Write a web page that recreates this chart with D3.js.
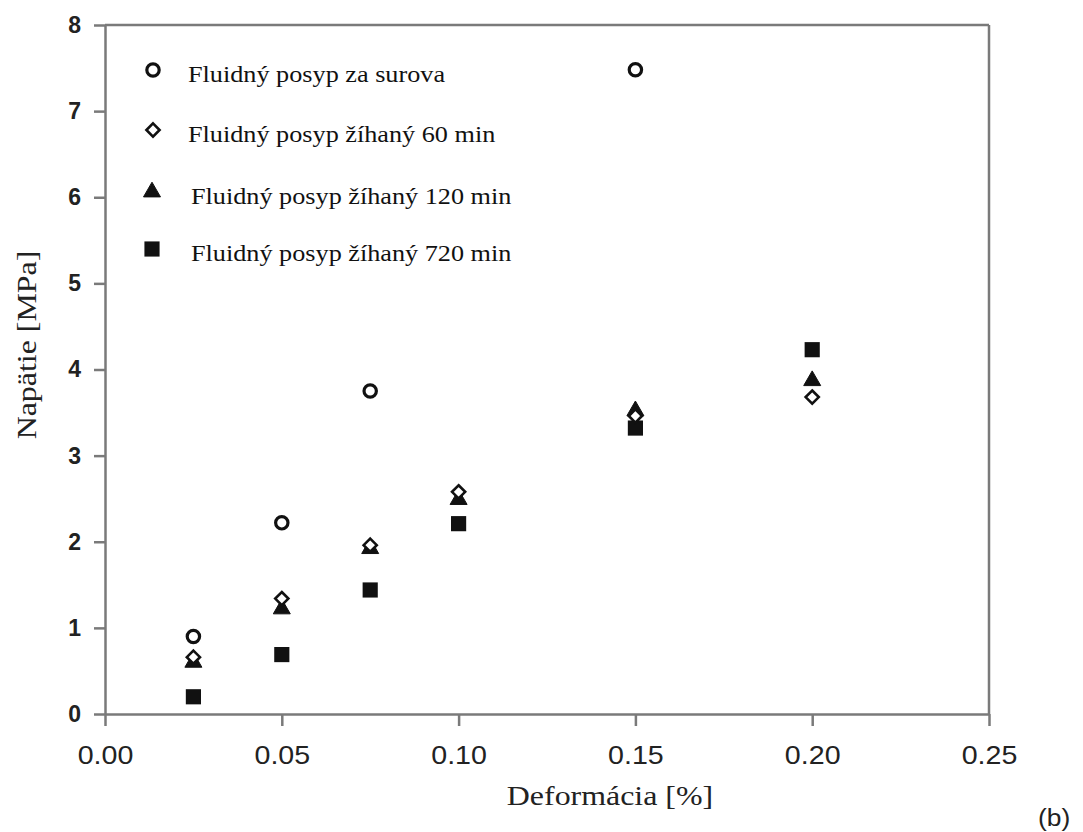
<!DOCTYPE html>
<html>
<head>
<meta charset="utf-8">
<script src="https://cdn.jsdelivr.net/npm/d3@7"></script>
<style>
  body { margin: 0; background: #fff; }
  .axis path, .axis line { stroke: #7a7a7a; stroke-width: 2.5; }
</style>
</head>
<body>
<div id="chart"></div>
<script>
// data
var deformacia = [0.025, 0.05, 0.075, 0.10, 0.15, 0.20];
var surovaX = [0.025, 0.05, 0.075, 0.15];
var surovaY = [0.90, 2.22, 3.75, 7.48];
var zihany60 = [0.66, 1.34, 1.96, 2.58, 3.46, 3.68];
var zihany120 = [0.60, 1.22, 1.92, 2.49, 3.52, 3.87];
var zihany720 = [0.20, 0.69, 1.44, 2.21, 3.32, 4.23];
var xTicks = [0, 0.05, 0.10, 0.15, 0.20, 0.25];
var yTicks = [0, 1, 2, 3, 4, 5, 6, 7, 8];
var seriesNames = ["Fluidný posyp za surova", "Fluidný posyp žíhaný 60 min",
                   "Fluidný posyp žíhaný 120 min", "Fluidný posyp žíhaný 720 min"];

var width = 1083, height = 832;
var margin = {left: 105, right: 94, top: 25, bottom: 118};

var svg = d3.select("#chart").append("svg")
    .attr("width", width)
    .attr("height", height);

var x = d3.scaleLinear().domain([0, 0.25]).range([margin.left, width - margin.right]);
var y = d3.scaleLinear().domain([0, 8]).range([height - margin.bottom, margin.top]);

// symbols
var diamondType = d3.symbolDiamond2 || d3.symbolDiamond;
var markers = [
    {type: d3.symbolCircle, size: 120, fill: "#fff", stroke: "#111", sw: 3.2},
    {type: diamondType, size: 110, fill: "#fff", stroke: "#111", sw: 2.6},
    {type: d3.symbolTriangle, size: 125, fill: "#111", stroke: "#111", sw: 1},
    {type: d3.symbolSquare, size: 230, fill: "#111", stroke: "#111", sw: 0}
];

// axes
var xAxis = d3.axisBottom(x)
    .tickValues(xTicks)
    .tickSize(12)
    .tickSizeOuter(0)
    .tickPadding(20)
    .tickFormat(d3.format(".2f"));

var yAxis = d3.axisLeft(y)
    .tickValues(yTicks)
    .tickSize(11)
    .tickSizeOuter(0)
    .tickPadding(13)
    .tickFormat(d3.format("d"));

var gx = svg.append("g")
    .attr("class", "axis")
    .attr("transform", "translate(0," + y(0) + ")")
    .call(xAxis);
gx.selectAll("text")
    .attr("font-family", "Liberation Sans, Arial, sans-serif")
    .attr("font-size", 26)
    .attr("fill", "#222")
    .attr("transform", "scale(1.1,1)");

var gy = svg.append("g")
    .attr("class", "axis")
    .attr("transform", "translate(" + x(0) + ",0)")
    .call(yAxis);
gy.selectAll("text")
    .attr("font-family", "Liberation Sans, Arial, sans-serif")
    .attr("font-size", 23)
    .attr("font-weight", "bold")
    .attr("fill", "#222");

// top and right frame lines
svg.append("line")
    .attr("x1", x(0)).attr("x2", x(0.25))
    .attr("y1", y(8)).attr("y2", y(8))
    .attr("stroke", "#7a7a7a").attr("stroke-width", 2.5);
svg.append("line")
    .attr("x1", x(0.25)).attr("x2", x(0.25))
    .attr("y1", y(8)).attr("y2", y(0))
    .attr("stroke", "#7a7a7a").attr("stroke-width", 2.5);

// points: squares first, circles last
function drawSeries(xs, ys, m) {
    svg.append("g").selectAll("path")
        .data(ys)
        .enter()
        .append("path")
        .attr("d", d3.symbol().type(m.type).size(m.size))
        .attr("transform", function(d, i) {
            return "translate(" + x(xs[i]) + "," + y(d) + ")";
        })
        .attr("fill", m.fill)
        .attr("stroke", m.stroke)
        .attr("stroke-width", m.sw);
}
drawSeries(deformacia, zihany720, markers[3]);
drawSeries(deformacia, zihany120, markers[2]);
drawSeries(deformacia, zihany60, markers[1]);
drawSeries(surovaX, surovaY, markers[0]);

// legend
var legendY = [70, 130, 192, 249];
var legendMarkX = [153, 153, 152, 152];
var legend = svg.append("g").selectAll("g")
    .data(seriesNames)
    .enter()
    .append("g");
legend.append("path")
    .attr("d", function(d, i) {
        return d3.symbol().type(markers[i].type).size(markers[i].size)();
    })
    .attr("transform", function(d, i) {
        return "translate(" + legendMarkX[i] + "," + legendY[i] + ")";
    })
    .attr("fill", function(d, i) { return markers[i].fill; })
    .attr("stroke", function(d, i) { return markers[i].stroke; })
    .attr("stroke-width", function(d, i) { return markers[i].sw; });
legend.append("text")
    .attr("transform", function(d, i) {
        return "translate(" + (i < 2 ? 188 : 191) + "," + (legendY[i] + 12) + ") scale(1.14,1)";
    })
    .attr("font-family", "Liberation Serif, Times New Roman, serif")
    .attr("font-size", 23)
    .attr("fill", "#111")
    .text(function(d) { return d; });

// axis titles
svg.append("text")
    .attr("transform", "translate(610,805) scale(1.14,1)")
    .attr("text-anchor", "middle")
    .attr("font-family", "Liberation Serif, Times New Roman, serif")
    .attr("font-size", 28)
    .attr("fill", "#222")
    .text("Deformácia [%]");

svg.append("text")
    .attr("transform", "translate(36,345) rotate(-90) scale(1.14,1)")
    .attr("text-anchor", "middle")
    .attr("font-family", "Liberation Serif, Times New Roman, serif")
    .attr("font-size", 28)
    .attr("fill", "#222")
    .text("Napätie [MPa]");

svg.append("text")
    .attr("transform", "translate(1038,826) scale(1.1,1)")
    .attr("font-family", "Liberation Sans, Arial, sans-serif")
    .attr("font-size", 24)
    .attr("fill", "#222")
    .text("(b)");
</script>
</body>
</html>
